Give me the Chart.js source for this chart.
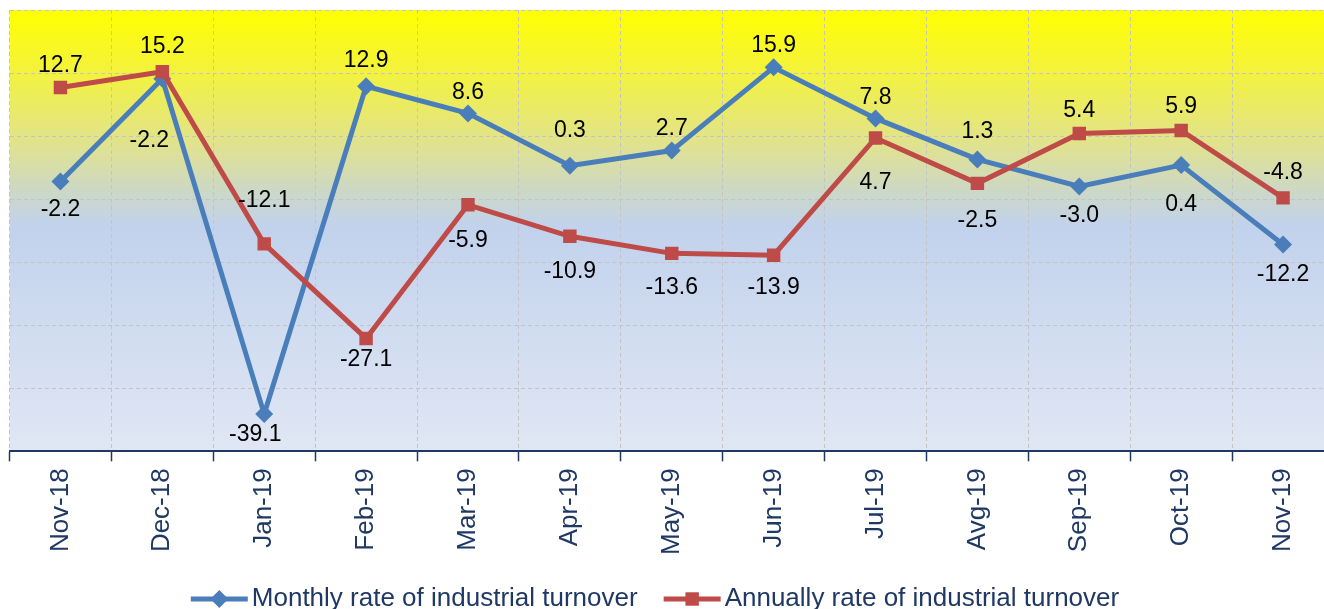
<!DOCTYPE html>
<html>
<head>
<meta charset="utf-8">
<script src="https://cdn.jsdelivr.net/npm/chart.js@4/dist/chart.umd.min.js"></script>
<style>
  html, body { margin: 0; padding: 0; background: #fff; overflow: hidden; }
  #wrap { width: 1344px; height: 609px; }
</style>
</head>
<body>
<div id="wrap"><canvas id="turnover" width="1344" height="609"></canvas></div>
<script>
const months = ['Nov-18', 'Dec-18', 'Jan-19', 'Feb-19', 'Mar-19', 'Apr-19', 'May-19',
                'Jun-19', 'Jul-19', 'Avg-19', 'Sep-19', 'Oct-19', 'Nov-19'];

const monthlyRate = [-2.2, 14.1, -39.1, 12.9, 8.6, 0.3, 2.7, 15.9, 7.8, 1.3, -3.0, 0.4, -12.2];
// labels as printed in the source (Dec-18 carries "-2.2" there)
const monthlyText = ['-2.2', '-2.2', '-39.1', '12.9', '8.6', '0.3', '2.7', '15.9', '7.8', '1.3', '-3.0', '0.4', '-12.2'];

const annualRate = [12.7, 15.2, -12.1, -27.1, -5.9, -10.9, -13.6, -13.9, 4.7, -2.5, 5.4, 5.9, -4.8];
const annualText = ['12.7', '15.2', '-12.1', '-27.1', '-5.9', '-10.9', '-13.6', '-13.9', '4.7', '-2.5', '5.4', '5.9', '-4.8'];

const yMin = -45, yMax = 25, yStep = 10;

// label placement relative to the marker (px, + is down)
const monthlyLabelDy = [28, 62, 21, -26, -21, -35, -22, -22, -21, -28, 29, 40, 30];
const monthlyLabelDx = [0, -13, -9, 0, 0, 0, 0, 0, 0, 0, 0, 0, 0];
const annualLabelDy = [-22, -25, -43, 21, 36, 35, 34, 32, 45, 37, -23, -24, -25];

const BLUE = '#4A7EBB';
const RED = '#BE4B48';
const NAVY = '#1F3864';
const FONT = "'Liberation Sans', Arial, sans-serif";

const plotBackground = {
    id: 'plotBackground',
    beforeDraw(chart) {
        const { ctx, chartArea: a } = chart;
        const g = ctx.createLinearGradient(0, a.top, 0, a.bottom);
        g.addColorStop(0, '#FFFF00');
        g.addColorStop(0.12, '#F5F434');
        g.addColorStop(0.30, '#E1E38C');
        g.addColorStop(0.41, '#CCD8C6');
        g.addColorStop(0.49, '#C2D2EC');
        g.addColorStop(1, '#E0E7F4');
        ctx.save();
        ctx.fillStyle = g;
        ctx.fillRect(a.left, a.top, a.right - a.left, a.bottom - a.top);
        ctx.restore();
    }
};

const valueLabels = {
    id: 'valueLabels',
    afterDatasetsDraw(chart) {
        const ctx = chart.ctx;
        const sets = [
            { idx: 0, text: monthlyText, dy: monthlyLabelDy, dx: monthlyLabelDx },
            { idx: 1, text: annualText, dy: annualLabelDy, dx: null }
        ];
        ctx.save();
        ctx.font = '23px ' + FONT;
        ctx.fillStyle = '#000';
        ctx.textAlign = 'center';
        ctx.textBaseline = 'middle';
        sets.forEach(s => {
            chart.getDatasetMeta(s.idx).data.forEach((pt, i) => {
                const dx = s.dx ? s.dx[i] : 0;
                ctx.fillText(s.text[i], pt.x + dx, pt.y + s.dy[i]);
            });
        });
        ctx.restore();
    }
};

const lineLegend = {
    id: 'lineLegend',
    afterDraw(chart) {
        const ctx = chart.ctx;
        const items = chart.data.datasets;
        ctx.save();
        ctx.font = '26px ' + FONT;
        ctx.textBaseline = 'middle';
        const sample = 57, gapText = 4, gapItem = 26;
        const widths = items.map(d => sample + gapText + ctx.measureText(d.label).width);
        const total = widths.reduce((a, b) => a + b, 0) + gapItem * (items.length - 1);
        let x = 655 - total / 2;
        const y = 599;
        items.forEach((d, i) => {
            ctx.strokeStyle = d.borderColor;
            ctx.lineWidth = 5;
            ctx.beginPath();
            ctx.moveTo(x, y);
            ctx.lineTo(x + sample, y);
            ctx.stroke();
            ctx.fillStyle = d.borderColor;
            Chart.helpers.drawPoint(ctx, {
                pointStyle: d.pointStyle, radius: d.pointRadius, borderWidth: 0
            }, x + sample / 2, y);
            ctx.fillStyle = NAVY;
            ctx.textAlign = 'left';
            ctx.fillText(d.label, x + sample + gapText, y);
            x += widths[i] + gapItem;
        });
        ctx.restore();
    }
};

new Chart(document.getElementById('turnover').getContext('2d'), {
    type: 'line',
    data: {
        labels: months,
        datasets: [{
            label: 'Monthly rate of industrial turnover',
            data: monthlyRate,
            borderColor: BLUE,
            backgroundColor: BLUE,
            borderWidth: 5,
            pointStyle: 'rectRot',
            pointRadius: 9,
            pointBorderWidth: 0,
            pointBackgroundColor: BLUE,
            tension: 0,
            order: 1
        }, {
            label: 'Annually rate of industrial turnover',
            data: annualRate,
            borderColor: RED,
            backgroundColor: RED,
            borderWidth: 5,
            pointStyle: 'rect',
            pointRadius: 9.5,
            pointBorderWidth: 0,
            pointBackgroundColor: RED,
            tension: 0,
            order: 0
        }]
    },
    options: {
        responsive: false,
        devicePixelRatio: 1,
        animation: false,
        layout: { padding: { left: 8, right: 10, top: 10, bottom: 47 } },
        plugins: {
            legend: { display: false },
            tooltip: { enabled: false }
        },
        scales: {
            x: {
                offset: true,
                grid: {
                    offset: true,
                    color: '#C4C4C4',
                    lineWidth: 1,
                    tickColor: NAVY,
                    tickWidth: 1.5,
                    tickLength: 10
                },
                border: { display: true, color: NAVY, width: 2, dash: [4, 3] },
                ticks: {
                    minRotation: 90,
                    maxRotation: 90,
                    padding: 7,
                    color: NAVY,
                    font: { family: FONT, size: 26 }
                }
            },
            y: {
                min: yMin,
                max: yMax,
                ticks: { display: false, stepSize: yStep },
                grid: { color: '#C4C4C4', lineWidth: 1, drawTicks: false },
                border: { display: false, dash: [4, 3] }
            }
        }
    },
    plugins: [plotBackground, valueLabels, lineLegend]
});
</script>
</body>
</html>
